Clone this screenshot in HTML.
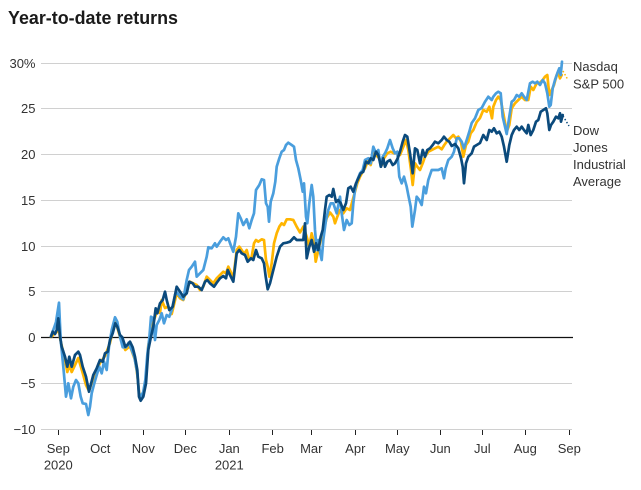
<!DOCTYPE html>
<html><head><meta charset="utf-8"><style>
html,body{margin:0;padding:0;background:#fff;}
svg{display:block;font-family:"Liberation Sans",sans-serif;}
</style></head><body>
<svg width="641" height="490" viewBox="0 0 641 490" xmlns="http://www.w3.org/2000/svg">
<rect width="641" height="490" fill="#fff"/>
<text x="8" y="24" font-size="18" font-weight="bold" fill="#1a1a1a" textLength="170" lengthAdjust="spacingAndGlyphs">Year-to-date returns</text>
<g stroke="#d0d0d0" stroke-width="1">
<line x1="41" y1="63.5" x2="572" y2="63.5"/>
<line x1="41" y1="108.5" x2="572" y2="108.5"/>
<line x1="41" y1="154.5" x2="572" y2="154.5"/>
<line x1="41" y1="200.5" x2="572" y2="200.5"/>
<line x1="41" y1="246.5" x2="572" y2="246.5"/>
<line x1="41" y1="291.5" x2="572" y2="291.5"/>
<line x1="41" y1="383.5" x2="572" y2="383.5"/>
<line x1="41" y1="429.5" x2="572" y2="429.5"/>
</g>
<line x1="41" y1="337.5" x2="573" y2="337.5" stroke="#111" stroke-width="1.3"/>
<g font-size="13" fill="#333" text-anchor="end">
<text x="35.5" y="68">30%</text>
<text x="35.5" y="113">25</text>
<text x="35.5" y="159">20</text>
<text x="35.5" y="205">15</text>
<text x="35.5" y="251">10</text>
<text x="35.5" y="296">5</text>
<text x="35.5" y="342">0</text>
<text x="35.5" y="388">−5</text>
<text x="35.5" y="434">−10</text>
</g>
<g stroke="#222" stroke-width="1">
<line x1="58.5" y1="430" x2="58.5" y2="435"/>
<line x1="100.5" y1="430" x2="100.5" y2="435"/>
<line x1="143.5" y1="430" x2="143.5" y2="435"/>
<line x1="185.5" y1="430" x2="185.5" y2="435"/>
<line x1="229.5" y1="430" x2="229.5" y2="435"/>
<line x1="272.5" y1="430" x2="272.5" y2="435"/>
<line x1="311.5" y1="430" x2="311.5" y2="435"/>
<line x1="355.5" y1="430" x2="355.5" y2="435"/>
<line x1="397.5" y1="430" x2="397.5" y2="435"/>
<line x1="440.5" y1="430" x2="440.5" y2="435"/>
<line x1="482.5" y1="430" x2="482.5" y2="435"/>
<line x1="525.5" y1="430" x2="525.5" y2="435"/>
<line x1="569.5" y1="430" x2="569.5" y2="435"/>
</g>
<g font-size="13" fill="#333" text-anchor="middle">
<text x="58.3" y="453">Sep</text>
<text x="100.3" y="453">Oct</text>
<text x="143.3" y="453">Nov</text>
<text x="185.3" y="453">Dec</text>
<text x="229.3" y="453">Jan</text>
<text x="272.7" y="453">Feb</text>
<text x="311.3" y="453">Mar</text>
<text x="355.3" y="453">Apr</text>
<text x="397.3" y="453">May</text>
<text x="440.3" y="453">Jun</text>
<text x="482.3" y="453">Jul</text>
<text x="525.3" y="453">Aug</text>
<text x="569.3" y="453">Sep</text>
<text x="58.3" y="469.5">2020</text>
<text x="229.3" y="469.5">2021</text>
</g>
<g fill="none" stroke-width="2.7" stroke-linejoin="round" stroke-linecap="round">
<polyline stroke="#ffb500" points="51,337 56.7,332 58.3,325 60,338 65,360 67.3,372 69.3,365 71.7,372 75,365 78.3,358 82.7,373 86,385 89,391 93.3,378 100,363 105,356 110,343 115.3,320 120,337 125.3,350 130,346 135,360 137.3,375 139,392 141,398 143.3,392 146,378 148.3,345 150.7,335 153.3,322 155.7,315 156.7,310 160,313 161.7,300 165,308 168.3,306.7 171.7,314 176.7,293.3 180,298.3 183.3,300 186.7,290 190,281.7 193.3,283.3 196.7,285 200,290 203.3,286.7 206.7,276.7 210,280 213.3,283.3 216.7,278.3 220,275 223.3,271.7 226,273.3 228.3,266.7 230.7,271.7 233.3,278.3 236.7,250 239.3,246.7 241.7,250 244,254 246.7,250 249.3,260 251.7,256.7 254,243.3 256,240 258.3,241.7 261.7,239.3 264,240 266,260 267.7,266.7 269.3,276.7 271.7,263.3 274,243.3 276.7,233.3 279.3,226.7 281.7,223.3 284,225 286.7,219.3 290,219.3 293.3,220 296.7,226.7 300,232.5 303.3,226.7 306.7,236.7 309.3,246.7 311.7,233.3 314,243.3 315.7,261.7 318.3,250 320.7,240 323.3,231.7 326.7,218 330,212.5 333.3,216.7 335,223.3 337.3,216.7 340,210 343.3,213.3 346.7,208.3 350,210 352.7,200 355,191.7 357.3,183.3 360,176.7 362.7,171.7 365,168.3 368.3,160 370.7,165 373.3,153.3 376,155 379.3,158.3 381.7,165 384,158.3 387.3,153.3 390.7,151.7 394,153.3 397.3,153.3 400,155 403.3,146.7 406,140 408.3,150 411,170 412.7,185 415,163.3 417.3,166.7 420,170 422.7,163.3 425,156.7 428.3,151.7 431.7,150 435,148.3 438.3,146.7 441.7,149.3 444.3,145 446.7,141.7 450,138.3 453.3,135 456,138.3 458.3,136.7 461,141.7 463.3,156.7 466,145 468.3,141.7 470.7,133.3 473.3,130 476.7,122 480,118 483.3,110 486.7,111.7 489.3,106.7 492,118.3 493.3,106.7 496,100 498.3,96.7 500.7,100 503.3,113.3 506.7,131.7 509.3,125 511.7,108.3 515,103.3 518.3,100 521.7,96.7 525,100 528.3,100 530.7,86.7 533.3,90 536.7,83.3 539.3,83.3 542.7,80 545,76.7 547.3,75 549.3,95 551.7,90 554,85 556.7,75 558.3,73.3 560,78.3 561.7,75"/>
<polyline stroke="#4a9edd" points="51,336 54,328 56,322 59,302.7 60.7,340 63.3,366.7 66,396.7 68.3,383.3 71,398.3 73.3,386.7 76,380 78.3,383.3 80.7,396.7 82.7,403.3 86,404 88.3,415 90,406.7 91.7,393.3 94.3,383.3 96.7,375 99.3,366.7 101.7,373.3 104,361.7 106.7,370 109,346.7 111.7,330 115,317.3 117.3,321.7 120,336.7 122.7,347.3 126,347.3 128.7,342.7 131.7,350 134.3,356.7 137.3,373.3 139,393.3 141,396.7 143.3,391.7 145.3,380 147.3,355 149.3,338.3 151,316.7 153.3,318.3 155,340 156.7,325 159.3,320 161.7,313.3 164,323.3 166.7,315 169.3,316.7 171.7,310 175,295 177.3,292.7 180,296.7 183.3,299.3 186.7,280 189,270 191.7,266.7 195,261.7 196.7,276.7 200,273.3 203.3,270 206.7,256.7 208.3,247.3 211.7,248.3 215,243.3 216.7,246.7 220,241.7 223.3,237.3 226,240 228.3,238.3 230.7,245 233.3,251.7 236,236.7 238.3,213.3 240.7,218.3 243.3,225 246.7,219.3 249.3,228.3 251.7,220 254,213.3 256,190 259.3,185 261.7,179.3 264,180 266,203.3 267.7,206.7 269,221.7 270.7,201.7 273.3,193.3 275.3,181.7 276.7,166.7 279.3,158.3 281.7,151.7 284,150 286,145 288.3,142.7 291.7,145 294,146.7 296,160 298.3,168.3 300.7,180 302.7,191.7 304,183.3 306,216.7 307.3,223.3 309.3,203.3 311.7,185 313.3,196.7 315,230 316.7,250 318.3,240 320,252 321.7,260 323.3,240 326,220 328.3,210 330.7,203.3 333.3,203.3 336.7,213.3 340,196.7 341.7,213.3 344,230 346.7,220 349.3,225 351.7,223.3 353.3,203.3 355,190 357.3,180 360,173.3 362.7,170 365,160 368.3,158.3 370.7,163.3 373.3,146.7 376,153.3 378.3,150 380.7,166.7 382.7,156.7 385,153.3 387.3,148.3 390,140 392.7,148.3 395,153.3 397.3,151.7 399.3,176.7 401.7,183.3 404,176.7 406.7,186.7 408.3,195 410.7,206.7 412.3,226.7 415,210 416.7,196.7 419.3,200 421.7,205 424,186.7 426,193.3 428.3,180 431.7,170 435,170 438.3,170 441.7,168.3 444,178.3 445.7,168.3 448.3,160 451.7,156.7 454,151.7 456.7,138.3 459.3,138.3 461.7,141.7 464,148.3 466.7,140 469.3,131.7 471.7,123 475,118.3 478.3,110 481.7,108 485,101.7 488.3,96.7 491.7,100 493.3,96.7 496,93.3 498.3,91.7 500.7,93.3 502.7,116.7 506.7,134 509.3,116.7 511.7,101.7 514,100 516.7,95 519.3,96.7 521.7,93.3 524,96.7 526.7,100 530,83.3 532.7,81.7 535,83.3 537.3,81.7 540,85 542.7,80 545,83.3 547.3,93.3 549.3,106.7 550.7,105 552.7,88.3 555,80 557.3,73.3 559.3,68.3 560.7,75 562,61.7"/>
<polyline stroke="#0b4a7c" points="51,336.7 52.7,331.7 55,334 56.7,330 58.3,318.3 60,336.7 61.7,346.7 65,356.7 67.3,366.7 69.3,356.7 71.7,366.7 75,355 78.3,351.7 80,355 82.7,366.7 86,376.7 89,391.7 90.7,385 93.3,375 96.7,368.3 100,360 102.7,361.7 105,353.3 107.7,351.7 110,340 112.7,333.3 115.3,323.3 117.3,326.7 120,335 122.3,337.3 125.3,346.7 127.3,345 130,341.7 132.7,347.3 135,356.7 137.3,370 139,396.7 140.7,400.7 143.3,396.7 146,383.3 148.3,350 150.7,338 153.3,326.7 155.7,308.3 157.3,313.3 160,303.3 162.7,300 165,291.7 166.7,300 169.3,310 172.7,306.7 176.7,286.7 180.7,292.7 183.3,296.7 186.7,293.3 189.3,281.7 192.7,283.3 195,286.7 198.3,286.7 201.7,290 205,281.7 207.3,280 210,283.3 214,286.7 216.7,282.7 220,278.3 223.3,276 226,278.3 227.7,270 230,275 233.3,281.7 236.7,253.3 239.3,250 241.7,253.3 245,255 247.7,261.7 251,258.3 253.3,260 256,250 258.3,256.7 261.7,258.3 264,263.3 265.7,276.7 267.7,289.3 270,283.3 273.3,270 276.7,256.7 280,246.7 283.3,243.3 286.7,242.7 290,241.7 294,237.3 296.7,240 300,240 303.3,240 305,223.3 306.7,258.3 309.3,246.7 311.7,240 314,251.7 316,243.3 318.3,250 320.7,236.7 322.7,230 325,210 326.7,196.7 329.3,195 331.7,196.7 333.3,189 336,202 338.3,200 340.7,203.3 343.3,210 346,203.3 348.3,188.3 350.7,186.7 353.3,191.7 356,183.3 358.3,178.3 360.7,173.3 363.3,171.7 366,161.7 368.3,163.3 370.7,158.3 373.3,160 376,151.7 378.3,155 381,166.7 383.3,158.3 385,166.7 387.3,161.7 390,160 392.7,165 395,163.3 397.7,158.3 400,151.7 402.7,141.7 405,135 407.3,136.7 410,153.3 412.7,173.3 415,148.3 417.3,150 420,163.3 422.7,150 425,156.7 427.3,150 430,148.3 432.7,145 435,141.7 438.3,143.3 441.7,140 444,136.7 446.7,140 449.3,141.7 451.7,146 455,144 458.3,148.3 461,158 462.7,166.7 464,183.3 466,163.3 468.3,156.7 471.7,153.3 474,146.7 476.7,145 480,143 483.3,135 486.7,140 489.3,130 491.7,131.7 494,128.3 496.7,133.3 499.3,131.7 501.7,136.7 504,146.7 506.7,161.7 509.3,145 511.7,135 514,130 516.7,126.7 519.3,130 521.7,126.7 524,130 526.7,133.3 528.3,125 530.7,135 533.3,130 536,121.7 538.3,120 540.7,111.7 543.3,110 546,108.3 547.3,113.3 549.3,130 551,125 553.3,121.7 556,116.7 558.3,118.3 560,113.3 561,121.7 562.7,115"/>
</g>
<line x1="563" y1="71" x2="568" y2="80" stroke="#ffb500" stroke-width="1.5" stroke-dasharray="1.5,2"/>
<line x1="563" y1="116" x2="569" y2="126" stroke="#0b4a7c" stroke-width="1.5" stroke-dasharray="1.5,2"/>
<g font-size="13" fill="#333">
<text x="573" y="71">Nasdaq</text>
<text x="573" y="88.5">S&amp;P 500</text>
<text x="573" y="135">Dow</text>
<text x="573" y="152">Jones</text>
<text x="573" y="169">Industrial</text>
<text x="573" y="186">Average</text>
</g>
</svg>
</body></html>
